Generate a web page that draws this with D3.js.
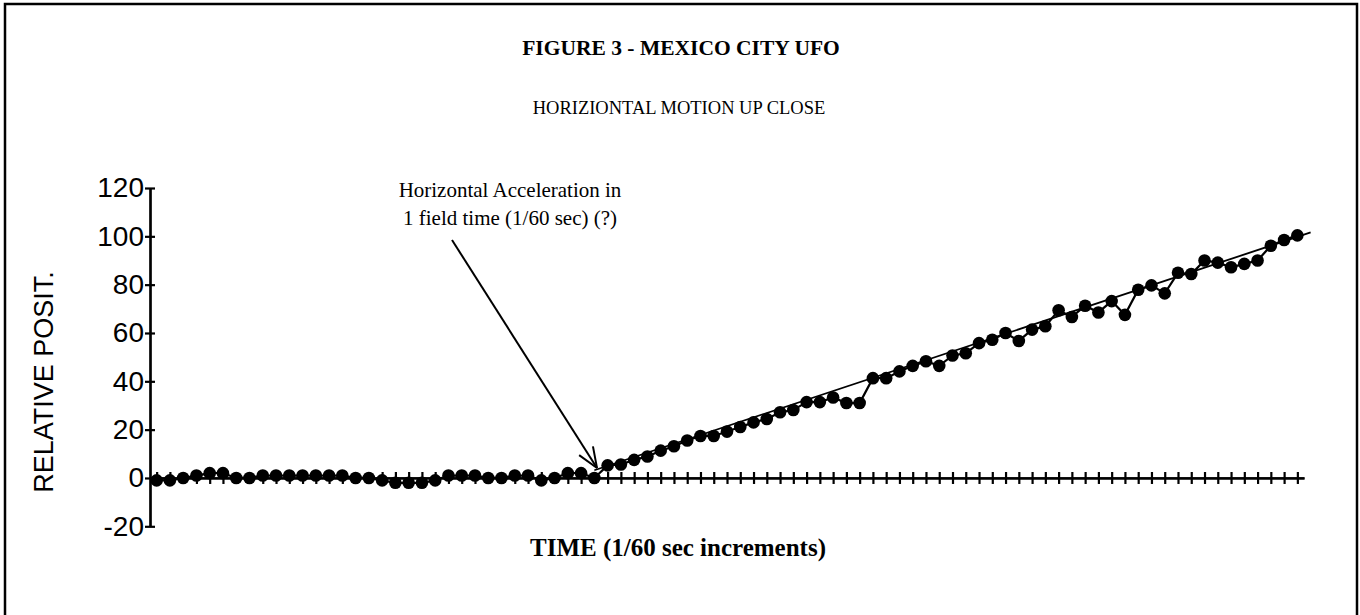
<!DOCTYPE html>
<html><head><meta charset="utf-8">
<script src="https://cdn.jsdelivr.net/npm/d3@7/dist/d3.min.js"></script>
<style>html,body{margin:0;padding:0;background:#fff;} svg{display:block}</style>
</head><body>
<svg id="chart" width="1360" height="615"></svg>
<script>
// ---- data ----
const timeSteps = [0,1,2,3,4,5,6,7,8,9,10,11,12,13,14,15,16,17,18,19,20,21,22,23,24,25,26,27,28,29,
  30,31,32,33,34,35,36,37,38,39,40,41,42,43,44,45,46,47,48,49,50,51,52,53,54,55,56,57,58,59,
  60,61,62,63,64,65,66,67,68,69,70,71,72,73,74,75,76,77,78,79,80,81,82,83,84,85,86];
const positions = [-1,-1,0,1,2,2,0,0,1,1,1,1,1,1,1,0,0,-1,-2,-2,-2,-1,1,1,1,0,0,1,1,-1,0,2,2,0,
  5.2,5.6,7.5,8.9,11.3,13.1,15.5,17.4,17.4,19.2,21.1,23,24.4,27.2,28.1,31.4,31.4,33.3,31,31,
  41.3,41.3,44.1,46.4,48.3,46.4,50.7,51.6,55.8,57.2,60,56.7,61.4,62.8,69.4,66.6,71.3,68.5,73.2,67.5,
  77.9,79.7,76.4,84.9,84.4,90,89.1,87.2,88.6,90,96.1,98.5,100.4];
const trendIndex = [33, 87];
const trendValue = [3.2, 101.6];
const yTickValues = [-20,0,20,40,60,80,100,120];
const titleText = "FIGURE 3 - MEXICO CITY UFO";
const subtitleText = "HORIZIONTAL MOTION UP CLOSE";
const yTitle = "RELATIVE POSIT.";
const xTitle = "TIME (1/60 sec increments)";
const noteLines = ["Horizontal Acceleration in", "1 field time (1/60 sec) (?)"];

// ---- drawing ----
const svg = d3.select('#chart');
const serif = '"Liberation Serif","Times New Roman",serif';
const sans = '"Liberation Sans",Arial,sans-serif';

svg.append('rect').attr('width',1360).attr('height',615).attr('fill','#fff');
svg.append('rect').attr('x',5).attr('y',4).attr('width',1352).attr('height',640)
  .attr('fill','none').attr('stroke','#000').attr('stroke-width',2.5);

const x = d3.scaleLinear().domain([-0.5, 86.5]).range([150, 1304]);
const y = d3.scaleLinear().domain([-20, 120]).range([526.3, 188]);

// titles
svg.append('text').attr('x',681).attr('y',55).attr('text-anchor','middle')
  .style('font-family',serif).style('font-weight','bold').style('font-size','21.5px').text(titleText);
svg.append('text').attr('x',679).attr('y',114).attr('text-anchor','middle')
  .style('font-family',serif).style('font-size','18.5px').text(subtitleText);

// y axis (crossing ticks)
const yl = svg.append('g').attr('transform',`translate(${x(-0.5)},0)`)
  .call(d3.axisLeft(y).tickValues(yTickValues).tickSizeInner(5).tickSizeOuter(0).tickPadding(1)
    .tickFormat(d => String(d)));
svg.append('g').attr('transform',`translate(${x(-0.5)},0)`)
  .call(d3.axisRight(y).tickValues(yTickValues).tickSizeInner(5).tickSizeOuter(0).tickFormat(''));
svg.selectAll('.domain, .tick line').attr('stroke','#000').attr('stroke-width',2.2);
yl.selectAll('.tick text').style('font-family',sans).style('font-size','28px').attr('fill','#000');

// x axis (crossing ticks)
const xb = svg.append('g').attr('transform',`translate(0,${y(0)})`)
  .call(d3.axisBottom(x).tickValues(timeSteps).tickSizeInner(6).tickSizeOuter(0).tickFormat(''));
const xt = svg.append('g').attr('transform',`translate(0,${y(0)})`)
  .call(d3.axisTop(x).tickValues(timeSteps).tickSizeInner(6).tickSizeOuter(0).tickFormat(''));
[xb, xt].forEach(g => g.selectAll('.domain, .tick line').attr('stroke','#000').attr('stroke-width',2.2));

// axis titles
svg.append('text').attr('transform','translate(53,382) rotate(-90)').attr('text-anchor','middle')
  .style('font-family',sans).style('font-size','27px').text(yTitle);
svg.append('text').attr('x',678).attr('y',556).attr('text-anchor','middle')
  .style('font-family',serif).style('font-weight','bold').style('font-size','25px').text(xTitle);

// trend line
svg.append('line')
  .attr('x1',x(trendIndex[0])).attr('y1',y(trendValue[0]))
  .attr('x2',x(trendIndex[1])).attr('y2',y(trendValue[1]))
  .attr('stroke','#000').attr('stroke-width',1.8);

// series line + markers
svg.append('path').datum(positions)
  .attr('d', d3.line().x((d,i)=>x(timeSteps[i])).y(d=>y(d)))
  .attr('fill','none').attr('stroke','#000').attr('stroke-width',2.2);
svg.append('g').selectAll('circle').data(positions).join('circle')
  .attr('cx',(d,i)=>x(timeSteps[i])).attr('cy',d=>y(d)).attr('r',6.3).attr('fill','#000');

// annotation
const note = svg.append('text').attr('text-anchor','middle')
  .style('font-family',serif).style('font-size','21px');
noteLines.forEach((t,i)=> note.append('tspan').attr('x',510).attr('y',197 + i*28).text(t));

const ax1 = 452, ay1 = 240, ax2 = 597, ay2 = 468;
svg.append('line').attr('x1',ax1).attr('y1',ay1).attr('x2',ax2).attr('y2',ay2)
  .attr('stroke','#000').attr('stroke-width',2);
const ang = Math.atan2(ay2-ay1, ax2-ax1);
[-0.38, 0.38].forEach(da => {
  const a = ang + Math.PI + da;
  svg.append('line').attr('x1',ax2).attr('y1',ay2)
    .attr('x2',ax2 + 22*Math.cos(a)).attr('y2',ay2 + 22*Math.sin(a))
    .attr('stroke','#000').attr('stroke-width',2);
});
</script>
</body></html>
